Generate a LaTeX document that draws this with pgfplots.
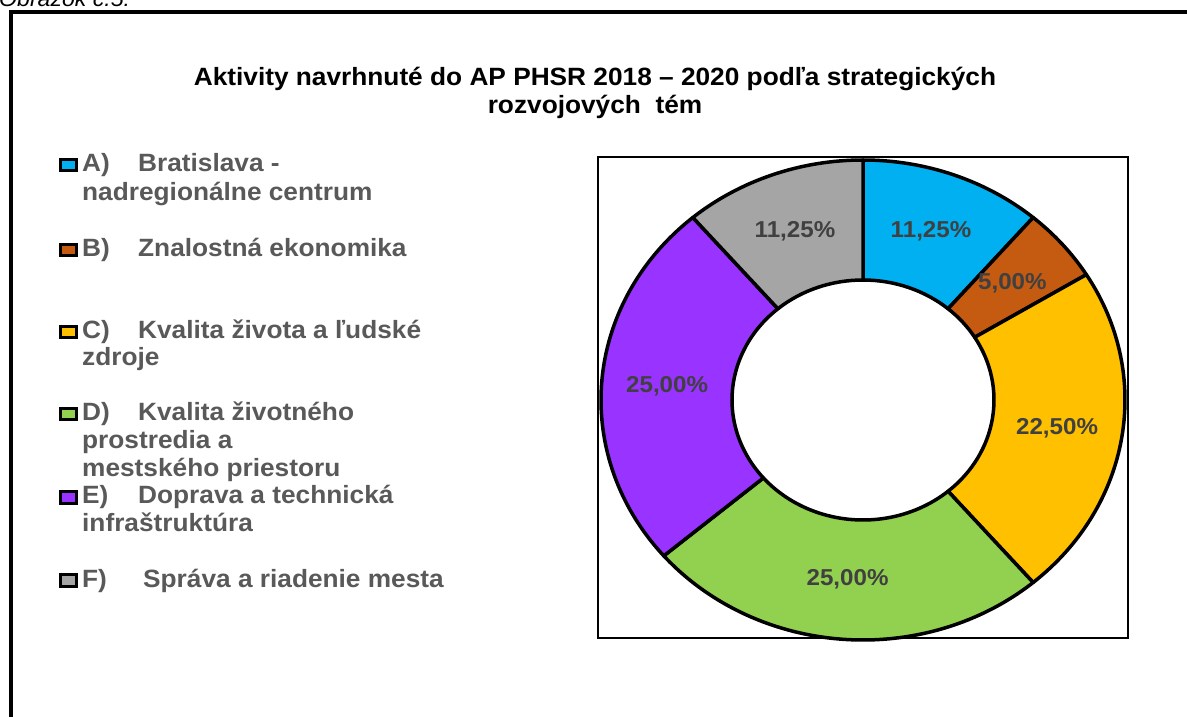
\documentclass[border=0pt]{standalone}
\usepackage{pgfplots}
\pgfplotsset{compat=1.18}
\usepackage{pgfplotstable}
\usepackage{fontspec}
\setmainfont{Liberation Sans}[FakeStretch=1.05]

\definecolor{cA}{HTML}{00B0F0}
\definecolor{cB}{HTML}{C55A11}
\definecolor{cC}{HTML}{FFC000}
\definecolor{cD}{HTML}{92D050}
\definecolor{cE}{HTML}{9933FF}
\definecolor{cF}{HTML}{A5A5A5}
\definecolor{legtext}{HTML}{595959}
\definecolor{lbltext}{HTML}{404040}

% podiel aktivit podla temy (%)
\pgfplotstableread{
id value
A 11.25
B 5.00
C 22.50
D 25.00
E 25.00
F 11.25
}\donut

\tikzset{
  lbl/.style={font=\bfseries\fontsize{23}{25}\selectfont, text=lbltext},
  leg/.style={font=\bfseries\fontsize{25}{28}\selectfont, text=legtext, anchor=base west, inner sep=0pt},
}
\newcommand\legmark[2]{\filldraw[fill=#1, draw=black, line width=3pt] (60,#2+1) rectangle (76,#2+12.5);}

\begin{document}
\begin{tikzpicture}[x=1pt,y=1pt]
\clip (0,0) rectangle (1187,716);
\fill[white] (0,0) rectangle (1187,716);
% ramcek
\draw[line width=3.5pt] (11,-10) -- (11,704) -- (1200,704);
\node[anchor=base west, inner sep=0pt, font=\itshape\fontsize{22}{24}\selectfont] at (-1,709) {Obrázok č.5:};

% nadpis
\node[anchor=base, inner sep=0pt, font=\bfseries\fontsize{25}{28}\selectfont] at (595,716-86) {Aktivity navrhnuté do AP PHSR 2018 – 2020 podľa strategických};
\node[anchor=base, inner sep=0pt, font=\bfseries\fontsize{25}{28}\selectfont] at (595,716-114) {rozvojových\ \ tém};

% legenda
\legmark{cA}{716-172}
\node[leg] at (82,716-172) {A)};
\node[leg] at (138,716-172) {Bratislava -};
\node[leg] at (82,716-201) {nadregionálne centrum};
\legmark{cB}{716-257}
\node[leg] at (82,716-257) {B)};
\node[leg] at (138,716-257) {Znalostná ekonomika};
\legmark{cC}{716-339}
\node[leg] at (82,716-339) {C)};
\node[leg] at (138,716-339) {Kvalita života a ľudské};
\node[leg] at (82,716-366) {zdroje};
\legmark{cD}{716-421}
\node[leg] at (82,716-421) {D)};
\node[leg] at (138,716-421) {Kvalita životného};
\node[leg] at (82,716-449) {prostredia a};
\node[leg] at (82,716-476) {mestského priestoru};
\legmark{cE}{716-504}
\node[leg] at (82,716-504) {E)};
\node[leg] at (138,716-504) {Doprava a technická};
\node[leg] at (82,716-531) {infraštruktúra};
\legmark{cF}{716-587}
\node[leg] at (82,716-587) {F)};
\node[leg] at (143,716-587) {Správa a riadenie mesta};

% ramik grafu
\draw[line width=1.5pt] (598,716-157) rectangle (1128,716-638);

\begin{axis}[
    at={(863pt,316pt)}, anchor=center,
    scale only axis,
    width=524pt, height=480pt,
    xmin=-1, xmax=1, ymin=-1, ymax=1,
    hide axis, clip=false,
    disabledatascaling,
  ]
  \pgfplotstablegetrowsof{\donut}
  \pgfmathtruncatemacro\nlast{\pgfplotsretval-1}
  \def\cum{0}
  \pgfplotsforeachungrouped \i in {0,...,\nlast}{%
    \pgfplotstablegetelem{\i}{value}\of\donut
    \let\val\pgfplotsretval
    \pgfplotstablegetelem{\i}{id}\of\donut
    \let\sid\pgfplotsretval
    \pgfmathsetmacro\sa{90-3.6*\cum}
    \pgfmathsetmacro\ea{90-3.6*(\cum+\val)}
    \pgfmathsetmacro\ma{(\sa+\ea)/2}
    \pgfmathsetmacro\cum{\cum+\val}
    \edef\temp{%
      \noexpand\filldraw[fill=c\sid, draw=black, line width=3.5pt, line join=round]
        (axis cs:{cos(\sa)},{sin(\sa)}) arc[start angle=\sa, end angle=\ea, radius=1]
        -- (axis cs:{0.5*cos(\ea)},{0.5*sin(\ea)}) arc[start angle=\ea, end angle=\sa, radius=0.5]
        -- cycle;
      \noexpand\node[lbl] at (axis cs:{0.75*cos(\ma)},{0.75*sin(\ma)})
        {\noexpand\pgfmathprintnumber[fixed, fixed zerofill, precision=2, use comma, assume math mode=true]{\val}\noexpand\%};
    }%
    \temp
  }
\end{axis}
\end{tikzpicture}
\end{document}
